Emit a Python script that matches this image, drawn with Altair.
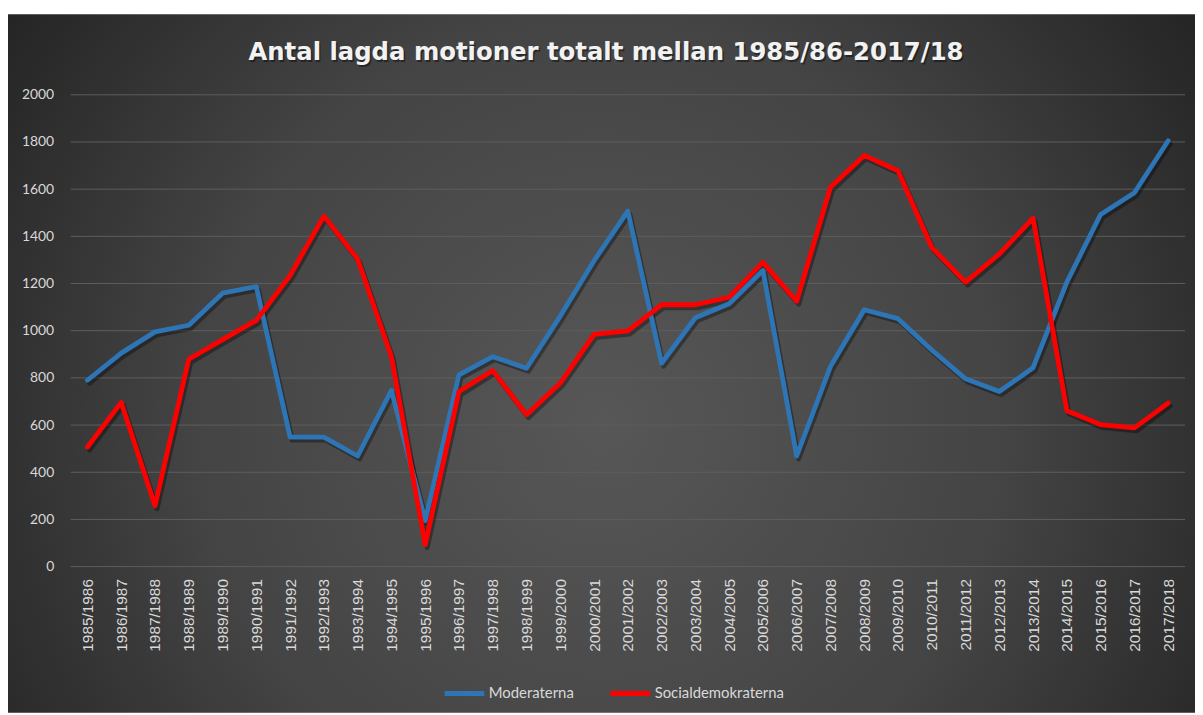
import altair as alt
import pandas as pd

years = ["1985/1986", "1986/1987", "1987/1988", "1988/1989", "1989/1990", "1990/1991",
         "1991/1992", "1992/1993", "1993/1994", "1994/1995", "1995/1996", "1996/1997",
         "1997/1998", "1998/1999", "1999/2000", "2000/2001", "2001/2002", "2002/2003",
         "2003/2004", "2004/2005", "2005/2006", "2006/2007", "2007/2008", "2008/2009",
         "2009/2010", "2010/2011", "2011/2012", "2012/2013", "2013/2014", "2014/2015",
         "2015/2016", "2016/2017", "2017/2018"]

moderaterna = [790, 905, 995, 1023, 1159, 1187, 549, 549, 469, 747, 195, 813, 890, 841,
               1062, 1297, 1507, 862, 1055, 1114, 1255, 469, 848, 1089, 1051, 918, 796,
               742, 843, 1206, 1493, 1585, 1805]

socialdemokraterna = [507, 696, 258, 879, 962, 1044, 1234, 1486, 1304, 890, 93, 742, 831,
                      644, 778, 984, 999, 1110, 1110, 1142, 1290, 1125, 1608, 1743, 1678,
                      1353, 1206, 1325, 1477, 661, 602, 588, 693]

y_ticks = [0, 200, 400, 600, 800, 1000, 1200, 1400, 1600, 1800, 2000]

title_text = "Antal lagda motioner totalt mellan 1985/86-2017/18"

series_names = ["Moderaterna", "Socialdemokraterna"]
series_colors = ["#2E75B6", "#FF0000"]

rows = []
for name, vals in zip(series_names, [moderaterna, socialdemokraterna]):
    for i, (yr, v) in enumerate(zip(years, vals)):
        rows.append({"year": yr, "value": v, "series": name, "order": i})
df = pd.DataFrame(rows)

W, H = 1122, 475

bg = alt.Chart(pd.DataFrame({"a": [0]})).mark_rect(
    fill=alt.RadialGradient(
        gradient="radial",
        stops=[alt.GradientStop(offset=0, color="#575757"),
               alt.GradientStop(offset=0.5, color="#444444"),
               alt.GradientStop(offset=1, color="#1c1c1c")],
        x1=0.5, y1=0.55, r1=0, x2=0.5, y2=0.55, r2=0.68),
    clip=False,
).encode(x=alt.value(-63), x2=alt.value(1132), y=alt.value(-81), y2=alt.value(622))

title_font = dict(font="DejaVu Sans", fontSize=24.5, fontWeight="bold",
                  align="center", baseline="alphabetic", clip=False)

title_shadow = alt.Chart(pd.DataFrame({"t": [title_text]})).mark_text(
    color="black", opacity=0.4, dx=1.5, dy=2, **title_font,
).encode(text="t:N", x=alt.value(539), y=alt.value(-35))

title = alt.Chart(pd.DataFrame({"t": [title_text]})).mark_text(
    color="#f2f2f2", **title_font,
).encode(text="t:N", x=alt.value(539), y=alt.value(-35))

yscale = alt.Scale(domain=[0, 2000], nice=False)
yaxis = alt.Axis(title=None, values=y_ticks, format="d", ticks=False, domain=False,
                 grid=False, zindex=2,
                 labelColor="#d9d9d9", labelFont="Lato", labelFontSize=14, labelPadding=17)

grid = alt.Chart(pd.DataFrame({"value": y_ticks})).mark_rule(
    color="#5e5e5e", strokeWidth=1).encode(
    y=alt.Y("value:Q", scale=yscale, axis=yaxis))

xenc = alt.X("year:N", sort=years, scale=alt.Scale(type="point", padding=0.5),
             axis=alt.Axis(title=None, labelAngle=-90, labelAlign="right", labelBaseline="middle",
                           labelPadding=12, ticks=False, domain=False, grid=False, zindex=2,
                           labelColor="#d9d9d9", labelFont="Liberation Sans", labelFontSize=15.5))
yenc = alt.Y("value:Q", scale=yscale, axis=yaxis)

shadow = alt.Chart(df).mark_line(strokeWidth=5, color="black", opacity=0.35,
                                 xOffset=2, yOffset=3, strokeCap="round", strokeJoin="round").encode(
    x=xenc, y=yenc, detail="series:N", order="order:Q")

lines = alt.Chart(df).mark_line(strokeWidth=4.8, strokeCap="round", strokeJoin="round").encode(
    x=xenc, y=yenc, order="order:Q",
    color=alt.Color("series:N", scale=alt.Scale(domain=series_names, range=series_colors),
                    legend=alt.Legend(title=None, orient="none", direction="horizontal",
                                      legendX=374, legendY=580, symbolType="stroke",
                                      symbolSize=1600, symbolStrokeWidth=5,
                                      labelColor="#d9d9d9", labelFont="Lato", labelFontSize=15,
                                      labelOffset=2, columnPadding=26, zindex=2)))

chart = alt.layer(bg, title_shadow, title, grid, shadow, lines).properties(
    width=W, height=H,
    autosize=alt.AutoSizeParams(type="none"),
    padding={"left": 63, "top": 85, "right": 10, "bottom": 147},
    background="white",
).configure_view(stroke=None)

chart.save("out.html", embed_options={"renderer": "svg", "actions": False})
